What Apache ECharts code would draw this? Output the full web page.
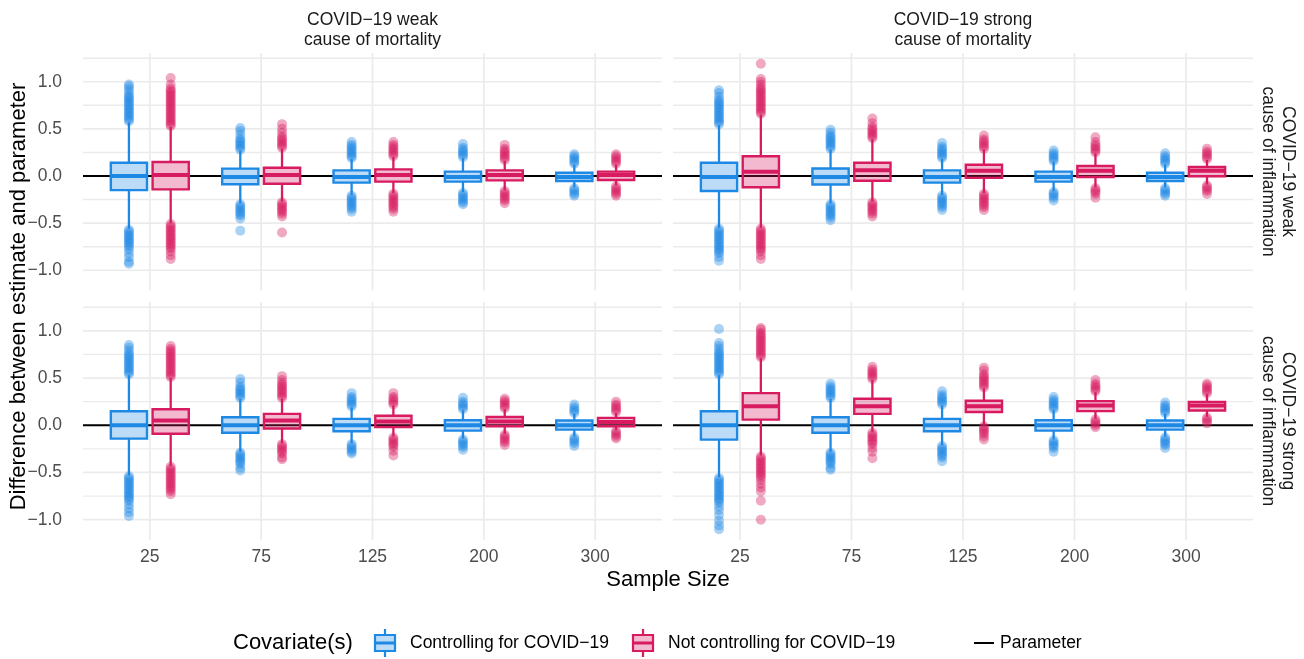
<!DOCTYPE html>
<html><head><meta charset="utf-8">
<script src="https://cdn.jsdelivr.net/npm/echarts@6/dist/echarts.min.js"></script>
<style>html,body{margin:0;padding:0;background:#fff}#c{width:1304px;height:659px}</style>
</head><body><div id="c"></div>
<script>
// ---------------- DATA ----------------
const sampleSizes = ['25', '75', '125', '200', '300'];
const colLabels = ['COVID\u221219 weak\ncause of mortality', 'COVID\u221219 strong\ncause of mortality'];
const rowLabels = ['COVID\u221219 weak\ncause of inflammation', 'COVID\u221219 strong\ncause of inflammation'];
const groupNames = ['Controlling for COVID\u221219', 'Not controlling for COVID\u221219'];
const yTicks = [-1, -0.5, 0, 0.5, 1];
const yMinorGrid = [-0.75, -0.25, 0.25, 0.75, 1.25];
const parameterValue = 0;

// box stats per sample size: [lower whisker, Q1, median, Q3, upper whisker]
const boxCtrl_mWeak_iWeak = [[-0.56,-0.15,0.00,0.14,0.57],[-0.29,-0.088,-0.01,0.078,0.27],[-0.20,-0.07,-0.01,0.06,0.18],[-0.17,-0.06,-0.01,0.046,0.19],[-0.12,-0.053,-0.01,0.035,0.12]];
const boxNot_mWeak_iWeak  = [[-0.50,-0.142,0.01,0.149,0.52],[-0.27,-0.082,0.01,0.088,0.29],[-0.18,-0.06,0.01,0.07,0.20],[-0.15,-0.046,0.01,0.06,0.16],[-0.10,-0.043,0.01,0.046,0.12]];
const boxCtrl_mStrong_iWeak = [[-0.55,-0.16,-0.01,0.14,0.54],[-0.29,-0.09,-0.01,0.08,0.28],[-0.20,-0.07,-0.01,0.06,0.18],[-0.16,-0.06,-0.01,0.046,0.15],[-0.12,-0.053,-0.01,0.035,0.12]];
const boxNot_mStrong_iWeak  = [[-0.55,-0.12,0.045,0.21,0.65],[-0.27,-0.05,0.06,0.14,0.39],[-0.18,-0.02,0.055,0.12,0.28],[-0.12,-0.01,0.055,0.106,0.24],[-0.09,-0.003,0.055,0.096,0.17]];
const boxCtrl_mWeak_iStrong = [[-0.53,-0.142,0.00,0.149,0.53],[-0.28,-0.08,0.00,0.085,0.28],[-0.19,-0.064,0.00,0.067,0.19],[-0.14,-0.057,0.00,0.053,0.16],[-0.12,-0.046,0.00,0.05,0.12]];
const boxNot_mWeak_iStrong  = [[-0.43,-0.09,0.05,0.17,0.50],[-0.19,-0.035,0.05,0.12,0.28],[-0.12,-0.02,0.04,0.10,0.21],[-0.09,-0.01,0.04,0.088,0.17],[-0.05,-0.01,0.035,0.078,0.13]];
const boxCtrl_mStrong_iStrong = [[-0.55,-0.152,0.00,0.149,0.53],[-0.28,-0.08,0.00,0.085,0.28],[-0.21,-0.064,0.00,0.067,0.21],[-0.15,-0.057,0.00,0.053,0.16],[-0.12,-0.046,0.00,0.05,0.12]];
const boxNot_mStrong_iStrong  = [[-0.32,0.06,0.20,0.34,0.71],[-0.07,0.12,0.20,0.28,0.48],[0.00,0.14,0.20,0.26,0.39],[0.07,0.15,0.21,0.255,0.35],[0.09,0.156,0.21,0.248,0.33]];

// outliers per sample size
const outCtrl_mWeak_iWeak = [
  [0.58,0.60,0.62,0.64,0.66,0.68,0.70,0.72,0.74,0.76,0.78,0.80,0.82,0.84,0.86,0.89,0.92,0.95,0.97,-0.57,-0.59,-0.61,-0.63,-0.65,-0.67,-0.69,-0.71,-0.73,-0.75,-0.78,-0.82,-0.86,-0.91,-0.93],
  [0.28,0.30,0.32,0.34,0.36,0.38,0.40,0.44,0.48,0.51,-0.30,-0.32,-0.34,-0.36,-0.38,-0.40,-0.42,-0.45,-0.58],
  [0.19,0.21,0.23,0.25,0.27,0.29,0.31,0.33,0.36,-0.21,-0.23,-0.25,-0.27,-0.29,-0.31,-0.33,-0.35,-0.38],
  [0.20,0.22,0.24,0.26,0.28,0.30,0.34,-0.18,-0.20,-0.22,-0.24,-0.26,-0.28,-0.30],
  [0.13,0.15,0.17,0.19,0.21,0.23,-0.13,-0.15,-0.17,-0.19,-0.21]
];
const outNot_mWeak_iWeak = [
  [0.53,0.55,0.57,0.59,0.61,0.63,0.65,0.67,0.69,0.71,0.73,0.75,0.77,0.79,0.81,0.83,0.85,0.87,0.89,0.91,0.93,0.97,1.04,-0.51,-0.53,-0.55,-0.57,-0.59,-0.61,-0.63,-0.65,-0.67,-0.69,-0.71,-0.73,-0.75,-0.77,-0.80,-0.84,-0.88],
  [0.30,0.32,0.34,0.36,0.38,0.40,0.42,0.46,0.50,0.55,-0.28,-0.30,-0.32,-0.34,-0.36,-0.38,-0.40,-0.43,-0.60],
  [0.21,0.23,0.25,0.27,0.29,0.31,0.33,0.36,-0.19,-0.21,-0.23,-0.25,-0.27,-0.29,-0.31,-0.33,-0.35,-0.38],
  [0.17,0.19,0.21,0.23,0.25,0.27,0.29,0.33,-0.16,-0.18,-0.20,-0.22,-0.24,-0.26,-0.29],
  [0.13,0.15,0.17,0.19,0.21,0.23,-0.11,-0.13,-0.15,-0.17,-0.19,-0.21]
];
const outCtrl_mStrong_iWeak = [
  [0.55,0.57,0.59,0.61,0.63,0.65,0.67,0.69,0.71,0.73,0.75,0.77,0.79,0.81,0.84,0.88,0.91,-0.56,-0.58,-0.60,-0.62,-0.64,-0.66,-0.68,-0.70,-0.72,-0.74,-0.76,-0.78,-0.80,-0.82,-0.86,-0.90],
  [0.29,0.31,0.33,0.35,0.37,0.39,0.41,0.43,0.46,0.49,-0.30,-0.32,-0.34,-0.36,-0.38,-0.40,-0.42,-0.44,-0.47],
  [0.19,0.21,0.23,0.25,0.27,0.29,0.31,0.35,-0.21,-0.23,-0.25,-0.27,-0.29,-0.31,-0.33,-0.36],
  [0.16,0.18,0.20,0.22,0.24,0.27,-0.17,-0.19,-0.21,-0.23,-0.26],
  [0.13,0.15,0.17,0.19,0.21,0.24,-0.13,-0.15,-0.17,-0.19,-0.21]
];
const outNot_mStrong_iWeak = [
  [0.66,0.68,0.70,0.72,0.74,0.76,0.78,0.80,0.82,0.84,0.86,0.88,0.90,0.92,0.94,0.97,1.00,1.03,1.19,-0.56,-0.58,-0.60,-0.62,-0.64,-0.66,-0.68,-0.70,-0.72,-0.74,-0.76,-0.78,-0.80,-0.84,-0.88],
  [0.40,0.42,0.44,0.46,0.48,0.50,0.52,0.56,0.61,-0.28,-0.30,-0.32,-0.34,-0.36,-0.38,-0.40,-0.43],
  [0.29,0.31,0.33,0.35,0.37,0.39,0.43,-0.19,-0.21,-0.23,-0.25,-0.27,-0.29,-0.31,-0.33,-0.36],
  [0.25,0.27,0.29,0.31,0.33,0.36,0.41,-0.13,-0.15,-0.17,-0.19,-0.23],
  [0.18,0.20,0.22,0.24,0.26,0.29,-0.10,-0.12,-0.14,-0.16,-0.19]
];
const outCtrl_mWeak_iStrong = [
  [0.54,0.56,0.58,0.60,0.62,0.64,0.66,0.68,0.70,0.72,0.74,0.76,0.79,0.82,0.85,-0.54,-0.56,-0.58,-0.60,-0.62,-0.64,-0.66,-0.68,-0.70,-0.72,-0.74,-0.76,-0.78,-0.80,-0.84,-0.88,-0.92,-0.96],
  [0.29,0.31,0.33,0.35,0.37,0.39,0.41,0.45,0.49,-0.29,-0.31,-0.33,-0.35,-0.37,-0.39,-0.41,-0.45,-0.48],
  [0.20,0.22,0.24,0.26,0.28,0.30,0.34,-0.20,-0.22,-0.24,-0.26,-0.28,-0.30],
  [0.17,0.19,0.21,0.23,0.25,0.29,-0.15,-0.17,-0.19,-0.21,-0.23,-0.26],
  [0.13,0.15,0.17,0.19,0.22,-0.13,-0.15,-0.17,-0.19,-0.22]
];
const outNot_mWeak_iStrong = [
  [0.51,0.53,0.55,0.57,0.59,0.61,0.63,0.65,0.67,0.69,0.71,0.73,0.75,0.77,0.79,0.81,0.84,-0.44,-0.46,-0.48,-0.50,-0.52,-0.54,-0.56,-0.58,-0.60,-0.62,-0.64,-0.66,-0.68,-0.70,-0.73],
  [0.29,0.31,0.33,0.35,0.37,0.39,0.41,0.43,0.45,0.48,0.52,-0.20,-0.22,-0.24,-0.26,-0.28,-0.30,-0.34,-0.36],
  [0.22,0.24,0.26,0.28,0.30,0.34,-0.13,-0.15,-0.17,-0.19,-0.21,-0.23,-0.27,-0.32],
  [0.18,0.20,0.22,0.24,0.26,0.28,-0.10,-0.12,-0.14,-0.16,-0.18,-0.21],
  [0.14,0.16,0.18,0.20,0.22,0.25,-0.06,-0.08,-0.10,-0.12,-0.14]
];
const outCtrl_mStrong_iStrong = [
  [0.54,0.56,0.58,0.60,0.62,0.64,0.66,0.68,0.70,0.72,0.74,0.76,0.78,0.81,0.84,0.87,1.02,-0.56,-0.58,-0.60,-0.62,-0.64,-0.66,-0.68,-0.70,-0.72,-0.74,-0.76,-0.78,-0.80,-0.82,-0.86,-0.90,-0.95,-1.01,-1.06,-1.10],
  [0.29,0.31,0.33,0.35,0.37,0.39,0.41,0.44,-0.29,-0.31,-0.33,-0.35,-0.37,-0.39,-0.41,-0.45,-0.47],
  [0.22,0.24,0.26,0.28,0.30,0.32,0.36,-0.22,-0.24,-0.26,-0.28,-0.30,-0.32,-0.34,-0.38],
  [0.17,0.19,0.21,0.23,0.25,0.27,0.30,-0.16,-0.18,-0.20,-0.22,-0.24,-0.28],
  [0.13,0.15,0.17,0.19,0.21,0.24,-0.13,-0.15,-0.17,-0.19,-0.21,-0.24]
];
const outNot_mStrong_iStrong = [
  [0.72,0.74,0.76,0.78,0.80,0.82,0.84,0.86,0.88,0.90,0.92,0.94,0.96,0.98,1.01,1.03,-0.33,-0.35,-0.37,-0.39,-0.41,-0.43,-0.45,-0.47,-0.49,-0.51,-0.53,-0.55,-0.58,-0.62,-0.66,-0.70,-0.80,-1.00],
  [0.49,0.51,0.53,0.55,0.57,0.59,0.62,-0.08,-0.10,-0.12,-0.14,-0.16,-0.18,-0.20,-0.24,-0.28,-0.35],
  [0.40,0.42,0.44,0.46,0.48,0.50,0.52,0.54,0.58,0.61,-0.01,-0.03,-0.05,-0.07,-0.09,-0.12,-0.15],
  [0.36,0.38,0.40,0.42,0.44,0.48,0.06,0.04,0.02,0.00,-0.02],
  [0.34,0.36,0.38,0.40,0.42,0.44,0.08,0.06,0.04,0.02]
];

// ---------------- LAYOUT / STYLE ----------------
const FONT = '"Liberation Sans", Arial, Helvetica, sans-serif';
const X_MIN = 0.4, X_MAX = 5.6, Y_MIN = -1.215, Y_MAX = 1.305;
const DODGE = 0.1875, BOX_W = 0.325;
const COLORS = [
  {stroke: '#1E88E5', fill: 'rgba(30,136,229,0.30)', point: 'rgba(30,136,229,0.47)'},
  {stroke: '#D81B60', fill: 'rgba(216,27,96,0.30)', point: 'rgba(216,27,96,0.47)'}
];
const panels = [
  {grid: {left: 83, top: 53, width: 579, height: 237.5}, box: [boxCtrl_mWeak_iWeak, boxNot_mWeak_iWeak], out: [outCtrl_mWeak_iWeak, outNot_mWeak_iWeak]},
  {grid: {left: 673, top: 53, width: 580, height: 237.5}, box: [boxCtrl_mStrong_iWeak, boxNot_mStrong_iWeak], out: [outCtrl_mStrong_iWeak, outNot_mStrong_iWeak]},
  {grid: {left: 83, top: 302, width: 579, height: 238}, box: [boxCtrl_mWeak_iStrong, boxNot_mWeak_iStrong], out: [outCtrl_mWeak_iStrong, outNot_mWeak_iStrong]},
  {grid: {left: 673, top: 302, width: 580, height: 238}, box: [boxCtrl_mStrong_iStrong, boxNot_mStrong_iStrong], out: [outCtrl_mStrong_iStrong, outNot_mStrong_iStrong]}
];

function fmtY(v) { return (v < 0 ? '\u2212' : '') + Math.abs(v).toFixed(1); }

function renderGrid(params, api) {
  const kind = api.value(0), pos = api.value(1);
  let a, b;
  if (kind < 2) { a = api.coord([X_MIN, pos]); b = api.coord([X_MAX, pos]); }
  else { a = api.coord([pos, Y_MIN]); b = api.coord([pos, Y_MAX]); }
  return {type: 'line', shape: {x1: a[0], y1: a[1], x2: b[0], y2: b[1]},
          style: {stroke: '#EBEBEB', lineWidth: kind === 1 ? 1.4 : 1.7}};
}
function renderParam(params, api) {
  const a = api.coord([api.value(0), api.value(2)]);
  const b = api.coord([api.value(1), api.value(2)]);
  return {type: 'line', shape: {x1: a[0], y1: a[1], x2: b[0], y2: b[1]}, style: {stroke: '#000', lineWidth: 2}};
}
function makeBoxRenderer(col) {
  return function (params, api) {
    const x = api.value(0);
    const pLo = api.coord([x, api.value(1)]);
    const pQ1 = api.coord([x, api.value(2)]);
    const pMed = api.coord([x, api.value(3)]);
    const pQ3 = api.coord([x, api.value(4)]);
    const pHi = api.coord([x, api.value(5)]);
    const w = api.size([BOX_W, 0])[0];
    const cx = pMed[0];
    return {type: 'group', children: [
      {type: 'line', shape: {x1: cx, y1: pHi[1], x2: cx, y2: pQ3[1]}, style: {stroke: col.stroke, lineWidth: 2.3}},
      {type: 'line', shape: {x1: cx, y1: pQ1[1], x2: cx, y2: pLo[1]}, style: {stroke: col.stroke, lineWidth: 2.3}},
      {type: 'rect', shape: {x: cx - w / 2, y: pQ3[1], width: w, height: pQ1[1] - pQ3[1]},
       style: {fill: col.fill, stroke: col.stroke, lineWidth: 2.4}},
      {type: 'line', shape: {x1: cx - w / 2, y1: pMed[1], x2: cx + w / 2, y2: pMed[1]}, style: {stroke: col.stroke, lineWidth: 4}}
    ]};
  };
}

const gridData = [].concat(
  yTicks.map(v => [0, v]),
  yMinorGrid.map(v => [1, v]),
  sampleSizes.map((s, i) => [2, i + 1])
);

const grids = [], xAxes = [], yAxes = [], series = [];
panels.forEach((p, k) => {
  grids.push(Object.assign({outerBoundsMode: 'none', containLabel: false}, p.grid));
  const isBottom = k >= 2, isLeft = k % 2 === 0;
  xAxes.push({
    gridIndex: k, type: 'value', min: X_MIN, max: X_MAX,
    axisLine: {show: false}, axisTick: {show: false}, splitLine: {show: false},
    axisLabel: isBottom ? {show: true, customValues: sampleSizes.map((s, i) => i + 1),
      formatter: v => sampleSizes[Math.round(v) - 1], color: '#4D4D4D', fontSize: 17.5, fontFamily: FONT, margin: 8}
      : {show: false}
  });
  yAxes.push({
    gridIndex: k, type: 'value', min: Y_MIN, max: Y_MAX,
    axisLine: {show: false}, axisTick: {show: false}, splitLine: {show: false},
    axisLabel: isLeft ? {show: true, customValues: yTicks, formatter: fmtY,
      color: '#4D4D4D', fontSize: 17.5, fontFamily: FONT, margin: 21}
      : {show: false}
  });
  series.push({type: 'custom', xAxisIndex: k, yAxisIndex: k, z: 1, silent: true,
    renderItem: renderGrid, data: gridData, encode: {x: -1, y: -1}});
  series.push({type: 'custom', name: 'Parameter', xAxisIndex: k, yAxisIndex: k, z: 2, silent: true,
    renderItem: renderParam, data: [[X_MIN, X_MAX, parameterValue]], encode: {x: [0, 1], y: 2}});
  [0, 1].forEach(g => {
    const off = g === 0 ? -DODGE : DODGE;
    series.push({type: 'custom', name: groupNames[g], xAxisIndex: k, yAxisIndex: k, z: 3, silent: true,
      renderItem: makeBoxRenderer(COLORS[g]),
      data: p.box[g].map((s, i) => [i + 1 + off].concat(s)),
      encode: {x: 0, y: [1, 2, 3, 4, 5]}});
    const pts = [];
    p.out[g].forEach((vals, i) => vals.forEach(v => pts.push([i + 1 + off, v])));
    series.push({type: 'scatter', name: groupNames[g], xAxisIndex: k, yAxisIndex: k, z: 4, silent: true,
      symbol: 'circle', symbolSize: 10, itemStyle: {color: COLORS[g].point, borderWidth: 0}, data: pts});
  });
});

function txt(text, x, y, size, color, opts) {
  return Object.assign({type: 'text', x: x, y: y, silent: true, style: {
    text: text, fontSize: size, fontFamily: FONT, fill: color,
    align: 'center', verticalAlign: 'middle', textAlign: 'center', textVerticalAlign: 'middle', lineHeight: 20
  }}, opts || {});
}
function boxKey(cx, cy, col) {
  return {type: 'group', silent: true, children: [
    {type: 'line', shape: {x1: cx, y1: cy - 14, x2: cx, y2: cy - 8}, style: {stroke: col.stroke, lineWidth: 2.2}},
    {type: 'line', shape: {x1: cx, y1: cy + 8, x2: cx, y2: cy + 14}, style: {stroke: col.stroke, lineWidth: 2.2}},
    {type: 'rect', shape: {x: cx - 10, y: cy - 8, width: 20, height: 16}, style: {fill: col.fill, stroke: col.stroke, lineWidth: 2.2}},
    {type: 'line', shape: {x1: cx - 10, y1: cy, x2: cx + 10, y2: cy}, style: {stroke: col.stroke, lineWidth: 3}}
  ]};
}
const LEG_Y = 643;
const graphic = [
  txt(colLabels[0], 372.5, 30, 17.5, '#1A1A1A'),
  txt(colLabels[1], 963, 30, 17.5, '#1A1A1A'),
  txt(rowLabels[0], 1278, 171.5, 17.5, '#1A1A1A', {rotation: -Math.PI / 2}),
  txt(rowLabels[1], 1278, 421, 17.5, '#1A1A1A', {rotation: -Math.PI / 2}),
  txt('Difference between estimate and parameter', 19, 296.5, 22, '#000', {rotation: Math.PI / 2}),
  txt('Sample Size', 668, 580, 22, '#000'),
  txt('Covariate(s)', 233, LEG_Y, 22, '#000'),
  boxKey(385, LEG_Y, COLORS[0]),
  txt(groupNames[0], 410, LEG_Y, 17.5, '#000'),
  boxKey(643, LEG_Y, COLORS[1]),
  txt(groupNames[1], 668, LEG_Y, 17.5, '#000'),
  {type: 'line', silent: true, shape: {x1: 974, y1: LEG_Y, x2: 994, y2: LEG_Y}, style: {stroke: '#000', lineWidth: 2}},
  txt('Parameter', 1000, LEG_Y, 17.5, '#000')
];
// left-align legend texts
[6, 8, 10, 12].forEach(i => { graphic[i].style.align = 'left'; graphic[i].style.textAlign = 'left'; });

const chart = echarts.init(document.getElementById('c'), null, {renderer: 'canvas'});
chart.setOption({
  animation: false,
  backgroundColor: '#fff',
  textStyle: {fontFamily: FONT},
  grid: grids, xAxis: xAxes, yAxis: yAxes, series: series, graphic: graphic
});
</script>
</body></html>
